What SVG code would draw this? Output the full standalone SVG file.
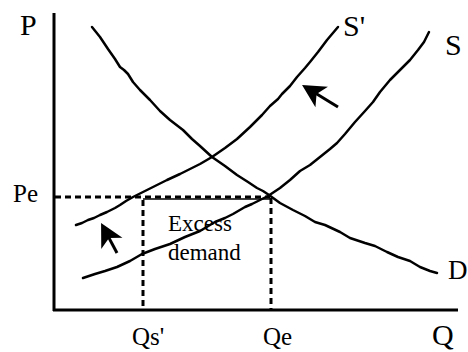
<svg xmlns="http://www.w3.org/2000/svg" width="468" height="352" viewBox="0 0 468 352">
<style>
.t{font-family:"Liberation Serif","Times New Roman",serif;fill:#000}
.big{font-size:30px}
.mid{font-size:25px}
.sm{font-size:23px}
.curve{fill:none;stroke:#000;stroke-width:2.5;stroke-linejoin:round;stroke-linecap:round}
.axis{fill:none;stroke:#000;stroke-width:3}
.dash{fill:none;stroke:#000;stroke-width:3;stroke-dasharray:6 4}
.solid{fill:none;stroke:#000;stroke-width:1.5}
.arr{fill:none;stroke:#000;stroke-width:3}
</style>
<defs>
<marker id="ah" markerUnits="userSpaceOnUse" markerWidth="40" markerHeight="40" viewBox="-20 -20 40 40" refX="0" refY="0" orient="auto" overflow="visible">
<path d="M12,0 L-11,-12 L-5,0 L-11,12 Z" fill="#000"/>
</marker>
</defs>
<g id="axes">
<line class="axis" x1="54" y1="13" x2="54" y2="311"/>
<line class="axis" x1="53" y1="310" x2="458" y2="310"/>
</g>
<g id="guides">
<line class="dash" x1="55" y1="197" x2="270" y2="197"/>
<line class="solid" x1="143" y1="199" x2="271" y2="199"/>
<line class="dash" x1="143" y1="200" x2="143" y2="309"/>
<line class="dash" x1="271" y1="198" x2="271" y2="309"/>
</g>
<g id="curve-D">
<polyline class="curve" points="92,27 100,37 108,49 115,59 120,67 124,70 128,74 133,82 140,90 150,100 160,111 170,120 183,130 192,139 200,146 212,157 225,166 237,175 248,182 257,188 263,191 269,195 280,203 293,210 305,216 315,222 325,225 340,232 350,238 365,243 375,246 387,252 398,257 410,261 420,267 430,271 437,273"/>
</g>
<g id="curve-S-prime">
<polyline class="curve" points="76,225 82,223 88,220 94,218 100,215 107,212 115,208 120,205 126,201 133,197 145,191 157,185 167,180 180,174 190,169 200,164 212,157 225,148 237,139 250,127 262,115 270,106 278,99 282,94 290,86 297,77 305,68 310,62 318,52 327,40 338,27"/>
</g>
<g id="curve-S">
<polyline class="curve" points="83,278 95,274 105,271 117,267 130,261 142,254 155,249 170,244 185,237 200,231 215,222 225,218 233,214 245,207 252,204 258,201 268,196 280,188 290,180 300,171 310,165 320,157 330,149 337,143 345,134 355,122 365,111 373,102 380,92 390,80 400,70 410,60 418,50 424,42 429,32"/>
</g>
<g id="arrows">
<line class="arr" x1="338" y1="107" x2="312.3" y2="91.3" marker-end="url(#ah)"/>
<line class="arr" x1="117" y1="253" x2="106.7" y2="233.6" marker-end="url(#ah)"/>
</g>
<g id="labels">
<text class="t big" x="20" y="35">P</text>
<text class="t mid" x="13" y="202">Pe</text>
<text class="t mid" x="132" y="345">Qs'</text>
<text class="t mid" x="263" y="345">Qe</text>
<text class="t big" x="432" y="345">Q</text>
<text class="t big" x="343" y="36">S'</text>
<text class="t big" x="445" y="55">S</text>
<text class="t" style="font-size:27px" x="448" y="279">D</text>
<text class="t sm" x="168" y="231">Excess</text>
<text class="t sm" x="168" y="260">demand</text>
</g>
</svg>
